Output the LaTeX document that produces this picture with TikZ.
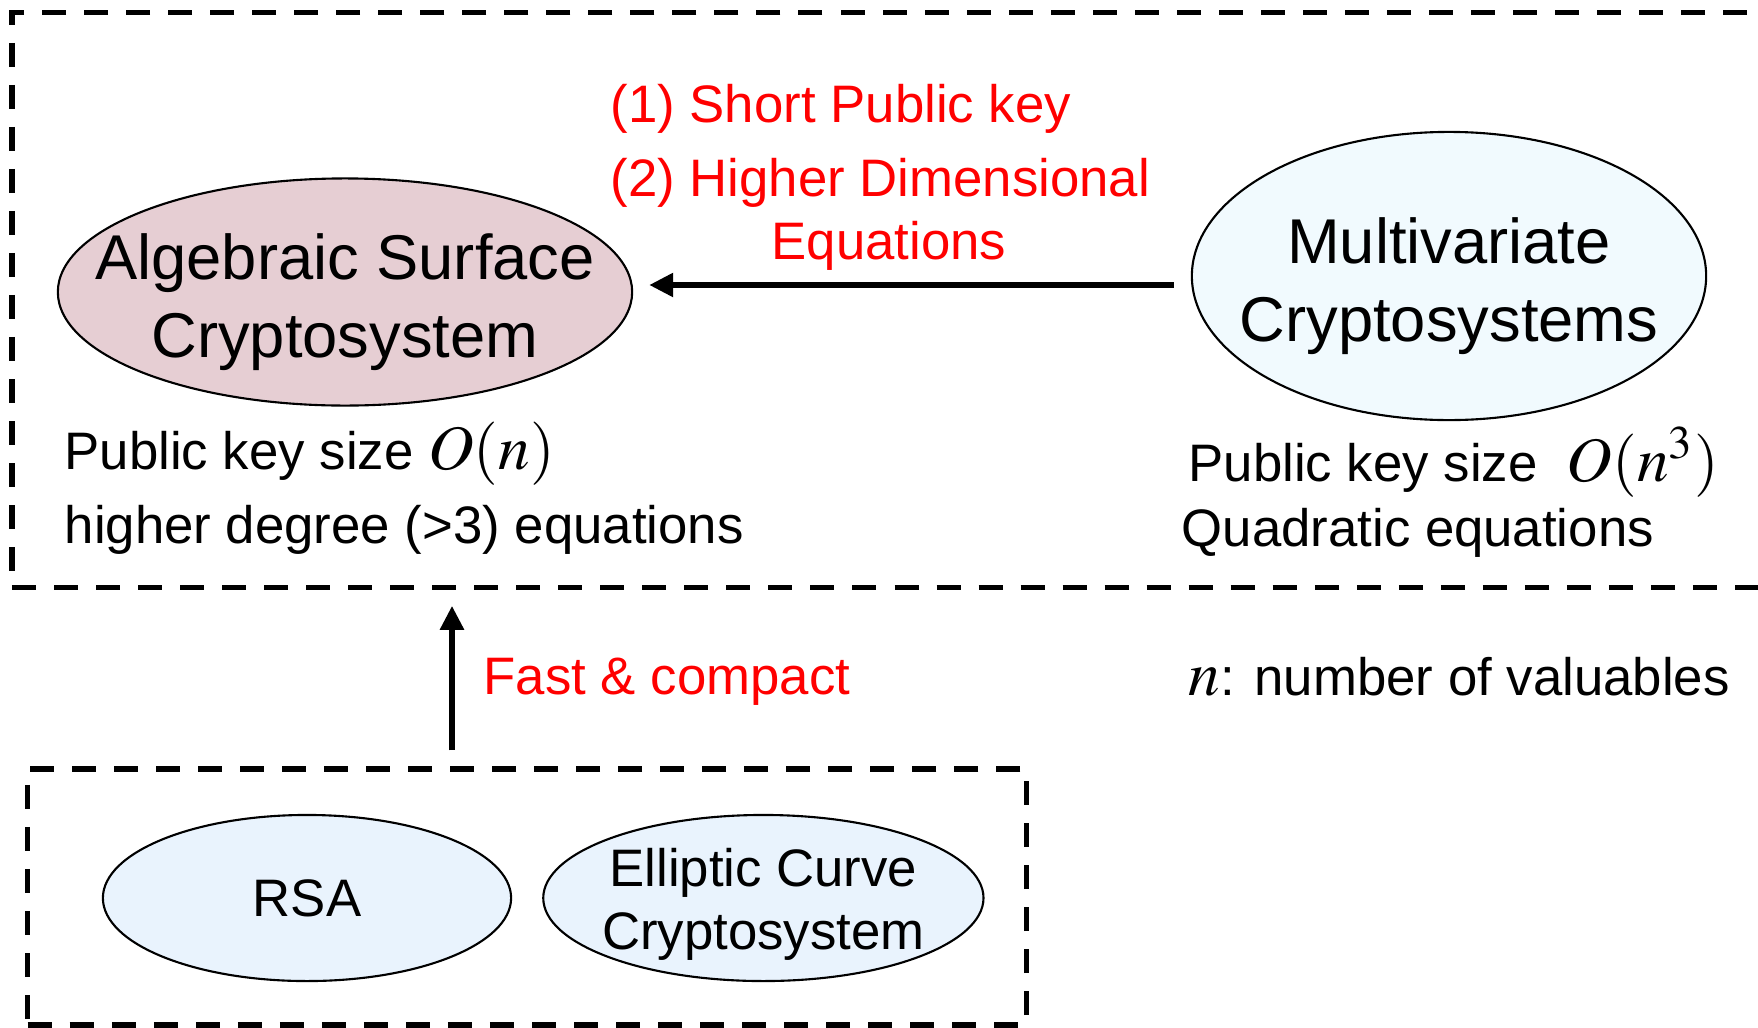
\documentclass[tikz,border=0pt]{standalone}
\usepackage{mathptmx}
\usepackage{fontspec}
\setmainfont{Liberation Sans}
\usetikzlibrary{arrows.meta,positioning,shapes.geometric,calc}

\definecolor{asfill}{RGB}{230,206,211}
\definecolor{mvfill}{RGB}{241,250,254}
\definecolor{clfill}{RGB}{233,243,253}

\newcommand{\bigtxt}{\fontsize{18}{22}\selectfont}
\newcommand{\smtxt}{\fontsize{15}{21}\selectfont}

\begin{document}
\begin{tikzpicture}[
  x=0.01cm, y=-0.01cm,
  >={Triangle[length=2.4mm,width=2.3mm]},
  group/.style={draw,line width=1.5pt,dash pattern=on 0.24cm off 0.18cm,inner sep=0pt},
  oval/.style={ellipse,draw,line width=0.6pt,inner sep=0pt},
  ovaltxt/.style={align=center,inner sep=0pt},
  note/.style={font=\smtxt,inner sep=0pt,align=left,anchor=west},
  adv/.style={note,text=red},
  flow/.style={->,line width=1.6pt},
]
\useasboundingbox (0,0) rectangle (1758,1027);

% ---- dashed groups ------------------------------------------------------
\node[group,minimum width=17.77cm,minimum height=5.74cm] (top) at (901,300) {};
\node[group,minimum width=9.98cm,minimum height=2.56cm]  (bot) at (527,897) {};

% ---- upper row ----------------------------------------------------------
\node[oval,fill=asfill,minimum width=5.74cm,minimum height=2.27cm,
      label={[ovaltxt,font=\bigtxt,yshift=-0.1cm]center:Algebraic Surface\\Cryptosystem}] (AS) at (345,292) {};
\node[oval,fill=mvfill,minimum width=5.14cm,minimum height=2.88cm,
      label={[ovaltxt,font=\bigtxt,yshift=-0.1cm]center:Multivariate\\Cryptosystems}] (MV) at (1449,276) {};

\coordinate (tail) at ($(MV.west)+(-17,9)$);
\draw[flow] (tail) -- ($(tail -| AS.east)+(16,0)$);

\node[adv] (gain) at (610,146) {(1) Short Public key\\(2) Higher Dimensional};
\node[adv,anchor=center] (gaineq) at (889,246) {Equations};

\node[note] (asnote) at (64,488)
   {Public key size {\bigtxt$O(n)$}\\higher degree (>3) equations};
\node[note,font=\fontsize{15}{18.4}\selectfont] (mvnote) at (1181,492)
   {\hspace*{0.07cm}Public key size\ \ {\bigtxt$O(n^3)$}\\Quadratic equations};

% ---- lower row ----------------------------------------------------------
\node[oval,fill=clfill,minimum width=4.08cm,minimum height=1.66cm,
      label={[ovaltxt,font=\smtxt]center:RSA}] (RSA) at (307,898) {};
\node[oval,fill=clfill,minimum width=4.40cm,minimum height=1.66cm,right=0.3cm of RSA,
      label={[ovaltxt,font=\fontsize{15}{18}\selectfont,yshift=-0.06cm]center:Elliptic Curve\\Cryptosystem}] (ECC) {};

\coordinate (up) at ($(bot.north)+(-75,0)$);
\draw[flow,shorten <=0.16cm,shorten >=0.16cm] (up) -- (up |- top.south);

\node[adv] (fast) at (483,682) {Fast \& compact};
\node[note] (nkey) at (1188,677) {{\bigtxt$n$}: number of valuables};

\end{tikzpicture}
\end{document}
